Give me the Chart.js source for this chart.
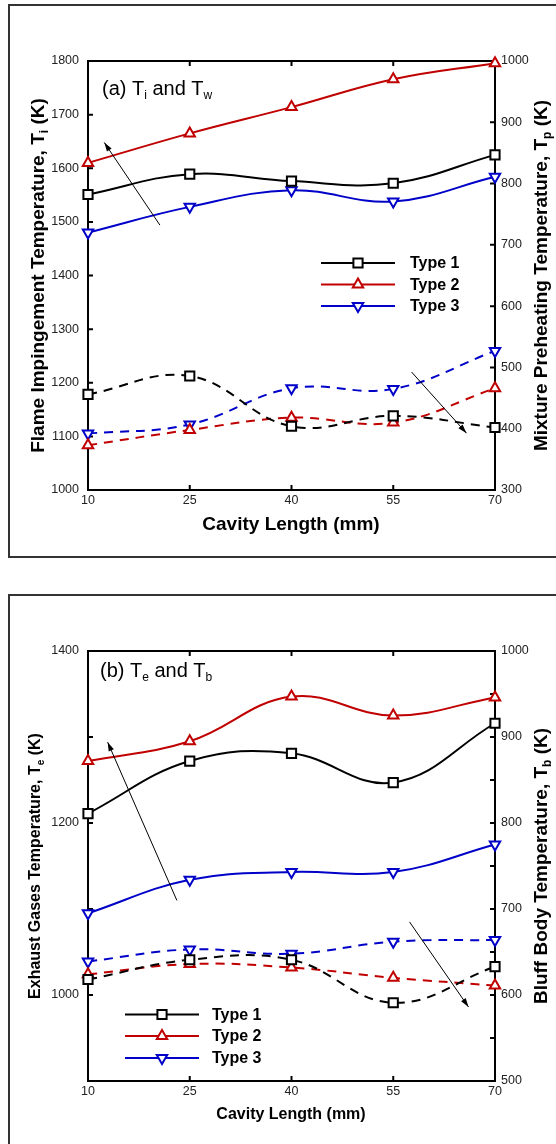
<!DOCTYPE html>
<html>
<head>
<meta charset="utf-8">
<script src="https://cdn.jsdelivr.net/npm/chart.js@4.4.0/dist/chart.umd.min.js"></script>
<style>
  body { margin: 0; background: #fff; width: 556px; height: 1144px; overflow: hidden; position: relative; }
  .frame { position: absolute; border: 2px solid #333; }
  #frameA { left: 8px; top: 4px; width: 560px; height: 550px; }
  #frameB { left: 8px; top: 594px; width: 560px; height: 580px; }
  canvas { position: absolute; left: 0; }
  #chartA { top: 0; }
  #chartB { top: 580px; }
</style>
</head>
<body>
<div class="frame" id="frameA"></div>
<div class="frame" id="frameB"></div>
<canvas id="chartA" width="556" height="572"></canvas>
<canvas id="chartB" width="556" height="564"></canvas>
<script>
// data
const cavityLength = [10, 25, 40, 55, 70];
const typeNames = ['Type 1', 'Type 2', 'Type 3'];

// (a) solid = Ti (left axis), dashed = Tp (right axis)
const tiType1 = [1551, 1589, 1576, 1572, 1625];
const tiType2 = [1610, 1665, 1714, 1766, 1796];
const tiType3 = [1480, 1528, 1559, 1538, 1584];
const tpType1 = [456, 486, 404, 421, 402];
const tpType2 = [373, 398, 418, 410, 466];
const tpType3 = [392, 407, 466, 465, 527];

// (b) solid = Te (left axis), dashed = Tb (right axis)
const teType1 = [1211, 1272, 1281, 1247, 1316];
const teType2 = [1272, 1295, 1347, 1325, 1346];
const teType3 = [1095, 1134, 1143, 1143, 1175];
const tbType1 = [618, 641, 641, 591, 633];
const tbType2 = [624, 636, 632, 620, 611];
const tbType3 = [639, 653, 648, 662, 664];

// ticks
const xTicks = [10, 25, 40, 55, 70];
const leftTicksA = [1000, 1100, 1200, 1300, 1400, 1500, 1600, 1700, 1800];
const rightTicksA = [300, 400, 500, 600, 700, 800, 900, 1000];
const leftTicksB = [900, 1000, 1100, 1200, 1300, 1400];
const leftLabelsB = [1000, 1200, 1400];
const rightTicksB = [500, 550, 600, 650, 700, 750, 800, 850, 900, 950, 1000];
const rightLabelsB = [500, 600, 700, 800, 900, 1000];

// trend arrows [x0, y0, x1, y1] in data units (left axis)
const arrowsA = [[20.6, 1494, 12.4, 1648], [57.7, 1220, 65.8, 1106]];
const arrowsB = [[23.1, 1110, 12.9, 1294], [57.4, 1085, 66.1, 986]];

const colors = ['#000000', '#c00000', '#0000c8'];
const markers = [
  { style: 'rect', rot: 0, r: 6.5 },
  { style: 'triangle', rot: 0, r: 6 },
  { style: 'triangle', rot: 180, r: 6 }
];
const FONT = '"Liberation Sans", Arial, sans-serif';
Chart.defaults.font.family = FONT;

function series(data, i, axis, dashed) {
  return {
    label: typeNames[i],
    data: cavityLength.map((x, k) => ({ x: x, y: data[k] })),
    yAxisID: axis,
    borderColor: colors[i],
    borderWidth: 2,
    borderDash: dashed ? [9, 7] : [],
    tension: 0.4,
    pointStyle: markers[i].style,
    pointRotation: markers[i].rot,
    pointRadius: markers[i].r,
    pointBorderWidth: 2,
    pointBackgroundColor: '#fff',
    pointBorderColor: colors[i],
    clip: false
  };
}

function drawRich(ctx, text, cx, cy, size, bold, rotate, align) {
  const w = bold ? 'bold ' : '';
  const mainFont = w + size + 'px ' + FONT;
  const subFont = w + Math.round(size * 0.62) + 'px ' + FONT;
  const parts = text.split(/_(\w)/).map((t, k) => ({ t: t, sub: k % 2 === 1 }));
  let total = 0;
  parts.forEach(p => { ctx.font = p.sub ? subFont : mainFont; p.w = ctx.measureText(p.t).width; total += p.w; });
  ctx.save();
  ctx.translate(cx, cy);
  if (rotate) ctx.rotate(-Math.PI / 2);
  let x = align === 'left' ? 0 : -total / 2;
  ctx.textAlign = 'left';
  ctx.textBaseline = 'middle';
  ctx.fillStyle = '#000';
  parts.forEach(p => {
    ctx.font = p.sub ? subFont : mainFont;
    ctx.fillText(p.t, x, p.sub ? size * 0.32 : 0);
    x += p.w;
  });
  ctx.restore();
}

// axis box + inward ticks
const framePlugin = {
  id: 'framePlugin',
  beforeDatasetsDraw(chart) {
    const { ctx, chartArea: a, scales } = chart;
    ctx.save();
    ctx.strokeStyle = '#000';
    ctx.lineWidth = 2;
    ctx.strokeRect(a.left, a.top, a.right - a.left, a.bottom - a.top);
    ctx.beginPath();
    scales.x.ticks.forEach(t => {
      const px = scales.x.getPixelForValue(t.value);
      ctx.moveTo(px, a.bottom); ctx.lineTo(px, a.bottom - 5);
      ctx.moveTo(px, a.top); ctx.lineTo(px, a.top + 5);
    });
    scales.y.ticks.forEach(t => {
      const py = scales.y.getPixelForValue(t.value);
      ctx.moveTo(a.left, py); ctx.lineTo(a.left + 5, py);
    });
    scales.y2.ticks.forEach(t => {
      const py = scales.y2.getPixelForValue(t.value);
      ctx.moveTo(a.right, py); ctx.lineTo(a.right - 5, py);
    });
    ctx.stroke();
    ctx.restore();
  },
  afterDatasetsDraw(chart, args, o) {
    const { ctx, scales } = chart;
    ctx.save();
    // arrows
    ctx.strokeStyle = '#000';
    ctx.fillStyle = '#000';
    ctx.lineWidth = 1;
    o.arrows.forEach(ar => {
      const x0 = scales.x.getPixelForValue(ar[0]), y0 = scales.y.getPixelForValue(ar[1]);
      const x1 = scales.x.getPixelForValue(ar[2]), y1 = scales.y.getPixelForValue(ar[3]);
      const ang = Math.atan2(y1 - y0, x1 - x0);
      ctx.beginPath(); ctx.moveTo(x0, y0); ctx.lineTo(x1, y1); ctx.stroke();
      ctx.beginPath();
      ctx.moveTo(x1, y1);
      ctx.lineTo(x1 - 9 * Math.cos(ang) + 2.8 * Math.sin(ang), y1 - 9 * Math.sin(ang) - 2.8 * Math.cos(ang));
      ctx.lineTo(x1 - 9 * Math.cos(ang) - 2.8 * Math.sin(ang), y1 - 9 * Math.sin(ang) + 2.8 * Math.cos(ang));
      ctx.closePath(); ctx.fill();
    });
    // legend
    const lg = o.legend;
    typeNames.forEach((name, i) => {
      const y = lg.y[i];
      ctx.strokeStyle = colors[i];
      ctx.lineWidth = 2;
      ctx.beginPath(); ctx.moveTo(lg.x0, y); ctx.lineTo(lg.x1, y); ctx.stroke();
      ctx.fillStyle = '#fff';
      Chart.helpers.drawPoint(ctx, { pointStyle: markers[i].style, rotation: markers[i].rot, radius: markers[i].r, borderWidth: 2 }, (lg.x0 + lg.x1) / 2, y);
      ctx.fillStyle = '#000';
      ctx.font = 'bold 16px ' + FONT;
      ctx.textAlign = 'left';
      ctx.textBaseline = 'middle';
      ctx.fillText(name, lg.tx, y + 1);
    });
    ctx.restore();
    // texts
    o.texts.forEach(t => drawRich(ctx, t.text, t.x, t.y, t.size, t.bold, t.rotate, t.align));
  }
};

function makeChart(id, sets, cfg) {
  return new Chart(document.getElementById(id), {
    type: 'line',
    data: { datasets: sets },
    plugins: [framePlugin],
    options: {
      responsive: false,
      animation: false,
      layout: { padding: { top: cfg.top } },
      plugins: {
        legend: { display: false },
        tooltip: { enabled: false },
        framePlugin: { arrows: cfg.arrows, legend: cfg.legend, texts: cfg.texts }
      },
      scales: {
        x: {
          type: 'linear', min: 10, max: 70,
          afterBuildTicks: s => { s.ticks = xTicks.map(v => ({ value: v })); },
          grid: { display: false, drawTicks: false }, border: { display: false },
          ticks: { padding: 3, color: '#222', font: { size: 12.5 }, maxRotation: 0, autoSkip: false },
          afterFit: s => { s.height = cfg.xHeight; }
        },
        y: {
          type: 'linear', position: 'left', min: cfg.left[0], max: cfg.left[cfg.left.length - 1],
          afterBuildTicks: s => { s.ticks = cfg.left.map(v => ({ value: v })); },
          grid: { display: false, drawTicks: false }, border: { display: false },
          ticks: { padding: 9, color: '#222', font: { size: 12.5 }, autoSkip: false,
            callback: v => cfg.leftLabels.includes(v) ? String(v) : '' },
          afterFit: s => { s.width = 88; }
        },
        y2: {
          type: 'linear', position: 'right', min: cfg.right[0], max: cfg.right[cfg.right.length - 1],
          afterBuildTicks: s => { s.ticks = cfg.right.map(v => ({ value: v })); },
          grid: { display: false, drawTicks: false }, border: { display: false },
          ticks: { padding: 6, color: '#222', font: { size: 12.5 }, autoSkip: false,
            callback: v => cfg.rightLabels.includes(v) ? String(v) : '' },
          afterFit: s => { s.width = 61; }
        }
      }
    }
  });
}

makeChart('chartA', [
  series(tiType1, 0, 'y', false), series(tiType2, 1, 'y', false), series(tiType3, 2, 'y', false),
  series(tpType1, 0, 'y2', true), series(tpType2, 1, 'y2', true), series(tpType3, 2, 'y2', true)
], {
  top: 61, xHeight: 82,
  left: leftTicksA, leftLabels: leftTicksA, right: rightTicksA, rightLabels: rightTicksA,
  arrows: arrowsA,
  legend: { x0: 321, x1: 395, tx: 410, y: [263, 284.5, 306] },
  texts: [
    { text: '(a) T_i and T_w', x: 102, y: 89, size: 20, bold: false, rotate: false, align: 'left' },
    { text: 'Flame Impingement Temperature, T_i (K)', x: 39, y: 275.5, size: 19, bold: true, rotate: true },
    { text: 'Mixture Preheating Temperature, T_p (K)', x: 542, y: 275.5, size: 19, bold: true, rotate: true },
    { text: 'Cavity Length (mm)', x: 291, y: 525, size: 19, bold: true, rotate: false }
  ]
});

makeChart('chartB', [
  series(teType1, 0, 'y', false), series(teType2, 1, 'y', false), series(teType3, 2, 'y', false),
  series(tbType1, 0, 'y2', true), series(tbType2, 1, 'y2', true), series(tbType3, 2, 'y2', true)
], {
  top: 71, xHeight: 63,
  left: leftTicksB, leftLabels: leftLabelsB, right: rightTicksB, rightLabels: rightLabelsB,
  arrows: arrowsB,
  legend: { x0: 125, x1: 199, tx: 212, y: [434.5, 456, 478] },
  texts: [
    { text: '(b) T_e and T_b', x: 100, y: 91, size: 20, bold: false, rotate: false, align: 'left' },
    { text: 'Exhaust Gases Temperature, T_e (K)', x: 36, y: 286, size: 16, bold: true, rotate: true },
    { text: 'Bluff Body Temperature, T_b (K)', x: 542, y: 286, size: 19, bold: true, rotate: true },
    { text: 'Cavity Length (mm)', x: 291, y: 535, size: 16, bold: true, rotate: false }
  ]
});
</script>
</body>
</html>
